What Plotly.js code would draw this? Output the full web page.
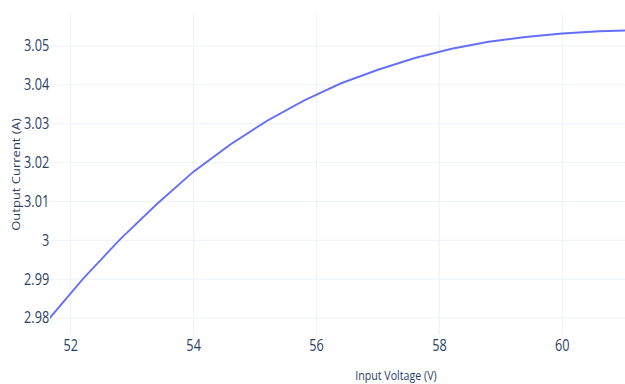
<!DOCTYPE html>
<html>
<head>
<meta charset="utf-8">
<script src="https://cdn.plot.ly/plotly-3.0.1.min.js"></script>
<style>
  html, body { margin: 0; padding: 0; background: #fff; overflow: hidden; }
  #wrap { width: 625px; height: 384px; overflow: hidden; }
  #chart { width: 762px; height: 384px; transform: scaleX(0.8202); transform-origin: 0 0; }
</style>
</head>
<body>
<div id="wrap"><div id="chart"></div></div>
<script>
// Input voltage sweep (V) and measured output current (A)
const inputVoltage = [51.6, 52.2, 52.8, 53.4, 54.0, 54.6, 55.2, 55.8, 56.4,
                      57.0, 57.6, 58.2, 58.8, 59.4, 60.0, 60.6, 61.2];
const outputCurrent = [2.9789, 2.9901, 3.0002, 3.0093, 3.0177, 3.0247, 3.0308,
                       3.0360, 3.0404, 3.0439, 3.0469, 3.0493, 3.0511, 3.0523,
                       3.0532, 3.0538, 3.0541];

const xTickVals = [52, 54, 56, 58, 60];
const xTickText = ['52', '54', '56', '58', '60'];
const yTickVals = [2.98, 2.99, 3.00, 3.01, 3.02, 3.03, 3.04, 3.05];
const yTickText = ['2.98', '2.99', '3', '3.01', '3.02', '3.03', '3.04', '3.05'];

const fontFamily = '"Open Sans", verdana, arial, sans-serif';
const inkColor = '#2a3f5f';
const gridColor = '#EBF0F8';

const trace = {
  x: inputVoltage,
  y: outputCurrent,
  type: 'scatter',
  mode: 'lines',
  line: { color: '#636efa', width: 2 },
  hoverinfo: 'x+y'
};

const layout = {
  width: 762,
  height: 384,
  margin: { l: 61, r: 0, t: 14, b: 49 },
  paper_bgcolor: '#ffffff',
  plot_bgcolor: '#ffffff',
  showlegend: false,
  font: { family: fontFamily, color: inkColor },
  xaxis: {
    range: [51.663, 61.02],
    tickmode: 'array',
    tickvals: xTickVals,
    ticktext: xTickText,
    tickfont: { size: 15.5, color: inkColor },
    showgrid: true,
    gridcolor: gridColor,
    gridwidth: 1,
    zeroline: false,
    showline: false,
    ticks: ''
  },
  yaxis: {
    range: [2.97563, 3.05824],
    tickmode: 'array',
    tickvals: yTickVals,
    ticktext: yTickText,
    tickfont: { size: 15.5, color: inkColor },
    showgrid: true,
    gridcolor: gridColor,
    gridwidth: 1,
    zeroline: false,
    showline: false,
    ticks: '',
    title: { text: 'Output Current (A)', font: { size: 13, color: inkColor }, standoff: 1 }
  },
  annotations: [{
    text: 'Input Voltage (V)',
    xref: 'paper', yref: 'paper',
    x: 0.602, y: -0.126,
    xanchor: 'center', yanchor: 'middle',
    showarrow: false,
    font: { size: 13, color: inkColor, family: fontFamily }
  }]
};

Plotly.newPlot('chart', [trace], layout, { displayModeBar: false, staticPlot: true });
</script>
</body>
</html>
